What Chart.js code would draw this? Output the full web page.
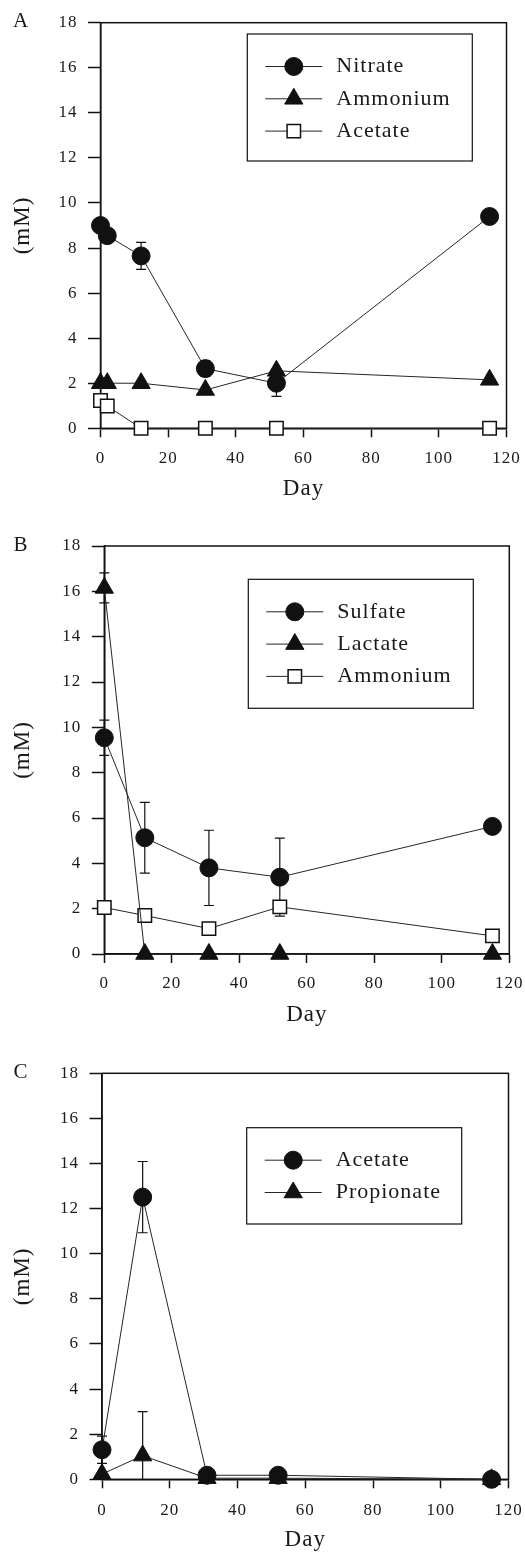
<!DOCTYPE html>
<html>
<head>
<meta charset="utf-8">
<script src="https://cdn.jsdelivr.net/npm/chart.js@4.4.1/dist/chart.umd.min.js"></script>
<style>
  html, body { margin: 0; padding: 0; background: #fff; }
  body { position: relative; width: 525px; height: 1552px; overflow: hidden; }
  canvas { position: absolute; left: 0; }
</style>
</head>
<body>
<canvas id="chartA" width="525" height="515" style="top:0px"></canvas>
<canvas id="chartB" width="525" height="520" style="top:515px"></canvas>
<canvas id="chartC" width="525" height="517" style="top:1035px"></canvas>
<script>
// ---- data ----
const xTicks = [0, 20, 40, 60, 80, 100, 120];
const yTicks = [0, 2, 4, 6, 8, 10, 12, 14, 16, 18];

// Panel A
const daysA = [0, 2, 12, 31, 52, 115];
const nitrateA = [9.0, 8.55, 7.65, 2.65, 2.0, 9.4];
const nitrateErrA = [0, 0, 0.6, 0.35, 0.58, 0];
const ammoniumA = [2.0, 2.0, 2.0, 1.7, 2.55, 2.15];
const acetateA = [1.23, 0.99, 0, 0, 0, 0];

// Panel B
const daysB = [0, 12, 31, 52, 115];
const sulfateB = [9.54, 5.13, 3.8, 3.39, 5.63];
const sulfateErrB = [0.78, 1.56, 1.66, 1.72, 0];
const lactateB = [16.15, 0, 0, 0, 0];
const lactateErrB = [0.66, 0, 0, 0, 0];
const ammoniumB = [2.05, 1.7, 1.12, 2.08, 0.8];

// Panel C
const daysC = [0, 12, 31, 52, 115];
const acetateC = [1.31, 12.51, 0.18, 0.18, 0.0];
const acetateErrC = [0.6, 1.58, 0, 0, 0];
const propionateC = [0.23, 1.05, 0.05, 0.05, 0.0];
const propionateErrC = [0, 1.95, 0, 0, 0];

// ---- styling ----
const SERIF = '"Liberation Serif", "Times New Roman", serif';
const INK = '#111';
const TEXT = '#1a1a1a';
const LINE = '#262626';

function pts(days, vals) {
    return days.map((d, i) => ({ x: d, y: vals[i] }));
}

function series(label, days, vals, style, errors) {
    const isOpen = style === 'rect';
    const radius = style === 'triangle' ? 10.5 : (style === 'rect' ? 9.5 : 9);
    return {
        label,
        data: pts(days, vals),
        errors: errors || null,
        pointStyle: style,
        pointRadius: radius,
        pointBorderWidth: isOpen ? 1.5 : 1,
        pointBackgroundColor: isOpen ? '#fff' : INK,
        pointBorderColor: INK,
        borderColor: LINE,
        borderWidth: 1,
        tension: 0,
        fill: false,
        clip: false
    };
}

// draws frame, error bars, legend box and panel letter
const panelDecor = {
    id: 'panelDecor',
    beforeDraw(chart) {
        chart.ctx.letterSpacing = '1px';
    },
    beforeDatasetsDraw(chart) {
        const { ctx, chartArea: a, scales: { x, y } } = chart;
        ctx.save();
        ctx.strokeStyle = INK;
        ctx.lineWidth = 1.5;
        ctx.strokeRect(a.left, a.top, a.right - a.left, a.bottom - a.top);

        ctx.beginPath();
        ctx.rect(0, a.top - 20, chart.width, a.bottom - a.top + 20.5);
        ctx.clip();
        ctx.lineWidth = 1.2;
        chart.data.datasets.forEach(ds => {
            if (!ds.errors) return;
            ds.data.forEach((p, i) => {
                const e = ds.errors[i];
                if (!e) return;
                const px = x.getPixelForValue(p.x);
                const hi = y.getPixelForValue(p.y + e);
                const lo = y.getPixelForValue(p.y - e);
                ctx.beginPath();
                ctx.moveTo(px, hi); ctx.lineTo(px, lo);
                ctx.moveTo(px - 5, hi); ctx.lineTo(px + 5, hi);
                ctx.moveTo(px - 5, lo); ctx.lineTo(px + 5, lo);
                ctx.stroke();
            });
        });
        ctx.restore();
    },
    afterDatasetsDraw(chart, args, opts) {
        const { ctx, chartArea: a } = chart;
        const lg = opts.legend;
        ctx.save();
        ctx.letterSpacing = '1px';

        // panel letter
        ctx.fillStyle = TEXT;
        ctx.font = '21px ' + SERIF;
        ctx.textAlign = 'center';
        ctx.textBaseline = 'middle';
        ctx.fillText(opts.letter, 21, a.top - 1);

        // legend box
        const bx = a.left + lg.left;
        const by = a.top + lg.top;
        ctx.fillStyle = '#fff';
        ctx.fillRect(bx, by, lg.width, lg.height);
        ctx.strokeStyle = INK;
        ctx.lineWidth = 1.2;
        ctx.strokeRect(bx, by, lg.width, lg.height);

        ctx.font = '22px ' + SERIF;
        ctx.textAlign = 'left';
        chart.data.datasets.forEach((ds, i) => {
            const yy = by + 32.5 + i * 32.3;
            ctx.strokeStyle = LINE;
            ctx.lineWidth = 1;
            ctx.beginPath();
            ctx.moveTo(bx + 18, yy);
            ctx.lineTo(bx + 75, yy);
            ctx.stroke();

            ctx.fillStyle = ds.pointBackgroundColor;
            ctx.strokeStyle = ds.pointBorderColor;
            ctx.lineWidth = ds.pointBorderWidth;
            Chart.helpers.drawPoint(ctx, {
                pointStyle: ds.pointStyle,
                radius: ds.pointRadius,
                borderWidth: ds.pointBorderWidth,
                rotation: 0
            }, bx + 46.5, yy);

            ctx.fillStyle = TEXT;
            ctx.fillText(ds.label, bx + 89, yy);
        });
        ctx.restore();
    }
};

function makePanel(id, geo, datasets, letter, legend) {
    const xHeight = geo.H - geo.bottom;
    new Chart(document.getElementById(id), {
        type: 'line',
        data: { datasets },
        plugins: [panelDecor],
        options: {
            responsive: false,
            animation: false,
            events: [],
            layout: { padding: { left: 0, top: geo.top, right: 525 - geo.right, bottom: 0 } },
            plugins: {
                legend: { display: false },
                tooltip: { enabled: false },
                panelDecor: { letter, legend }
            },
            scales: {
                x: {
                    type: 'linear',
                    min: 0,
                    max: 120,
                    afterBuildTicks: s => { s.ticks = xTicks.map(v => ({ value: v })); },
                    afterFit: s => {
                        s.height = xHeight;
                        s.paddingLeft = 0;
                        s.paddingRight = 0;
                    },
                    grid: { drawOnChartArea: false, drawTicks: true, tickLength: 9, tickWidth: 1.5, tickColor: INK },
                    border: { display: true, color: INK, width: 1.5 },
                    ticks: { color: TEXT, padding: geo.xPad, maxRotation: 0, font: { family: SERIF, size: 17 } },
                    title: {
                        display: true, text: 'Day', color: TEXT,
                        font: { family: SERIF, size: 23, lineHeight: 1 },
                        padding: { top: 0, bottom: Math.max(0, xHeight - 61 - 11.5) }
                    }
                },
                y: {
                    type: 'linear',
                    min: 0,
                    max: 18,
                    afterBuildTicks: s => { s.ticks = yTicks.map(v => ({ value: v })); },
                    afterFit: s => {
                        s.width = geo.left;
                        s.paddingTop = 0;
                        s.paddingBottom = 0;
                    },
                    grid: { drawOnChartArea: false, drawTicks: true, tickLength: 12.5, tickWidth: 1.5, tickColor: INK },
                    border: { display: true, color: INK, width: 1.5 },
                    ticks: { color: TEXT, padding: 10.5, font: { family: SERIF, size: 17 } },
                    title: {
                        display: true, text: '(mM)', color: TEXT,
                        font: { family: SERIF, size: 23, lineHeight: 1 },
                        padding: { top: 11.2, bottom: 0 }
                    }
                }
            }
        }
    });
}

makePanel('chartA',
    { H: 515, top: 22.7, bottom: 428.3, left: 100.5, right: 506.5, xPad: 11.5 },
    [
        series('Nitrate', daysA, nitrateA, 'circle', nitrateErrA),
        series('Ammonium', daysA, ammoniumA, 'triangle'),
        series('Acetate', daysA, acetateA, 'rect')
    ],
    'A', { left: 146.8, top: 11.3, width: 225, height: 127 });

makePanel('chartB',
    { H: 520, top: 546 - 515, bottom: 954 - 515, left: 104.3, right: 509.3, xPad: 10 },
    [
        series('Sulfate', daysB, sulfateB, 'circle', sulfateErrB),
        series('Lactate', daysB, lactateB, 'triangle', lactateErrB),
        series('Ammonium', daysB, ammoniumB, 'rect')
    ],
    'B', { left: 144, top: 33.3, width: 225, height: 129 });

makePanel('chartC',
    { H: 517, top: 1073.3 - 1035, bottom: 1479.3 - 1035, left: 102, right: 508.5, xPad: 12 },
    [
        series('Acetate', daysC, acetateC, 'circle', acetateErrC),
        series('Propionate', daysC, propionateC, 'triangle', propionateErrC)
    ],
    'C', { left: 144.7, top: 54.4, width: 215, height: 96.3 });
</script>
</body>
</html>
